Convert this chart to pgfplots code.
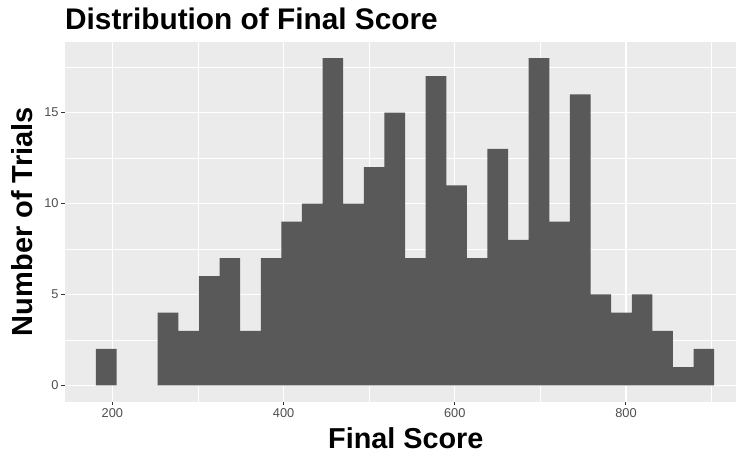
\documentclass[border=0pt]{standalone}
\usepackage{pgfplots}
\pgfplotsset{compat=1.18}
\usepackage{fontspec}
\setmainfont{Liberation Sans}
\definecolor{ggbg}{HTML}{EBEBEB}
\definecolor{ggbar}{HTML}{595959}
\definecolor{ggtxt}{HTML}{4D4D4D}
\definecolor{ggtick}{HTML}{333333}
\begin{document}
\begin{tikzpicture}
\path[use as bounding box] (0,0) rectangle (736bp,454bp);
\begin{axis}[
  at={(65bp,52.3bp)}, anchor=south west,
  width=671bp, height=360bp, scale only axis,
  xmin=144.6, xmax=928.6, ymin=-0.9, ymax=18.9,
  axis background/.style={fill=ggbg},
  axis line style={draw=none},
  xtick={200,400,600,800}, ytick={0,5,10,15},
  minor xtick={300,500,700,900}, minor ytick={2.5,7.5,12.5,17.5},
  grid=both,
  major grid style={white, line width=1.42bp},
  minor grid style={white, line width=0.71bp},
  tick pos=left, tick align=outside,
  major tick length=3.7bp, minor tick length=0pt,
  major tick style={ggtick, line width=1.07bp},
  /pgf/number format/assume math mode=true,
  ticklabel style={font=\fontsize{12.8bp}{14bp}\selectfont, text=ggtxt},
  xticklabel style={inner sep=0pt, anchor=north, yshift=-3bp},
  yticklabel style={inner sep=0pt, anchor=east, xshift=-2.5bp},
  title={Distribution of Final Score},
  every axis title/.style={at={([yshift=12.4bp]axis description cs:0,1)}, anchor=base west, inner sep=0pt,
    font=\fontsize{29.8bp}{34bp}\selectfont\bfseries},
  xlabel={Final Score},
  every axis x label/.style={at={([xshift=5.3bp,yshift=-46.3bp]axis description cs:0.5,0)}, anchor=base, inner sep=0pt,
    font=\fontsize{28.8bp}{34bp}\selectfont\bfseries},
  ylabel={Number of Trials},
  every axis y label/.style={at={([xshift=-32bp]axis description cs:0,0.5)}, rotate=90, anchor=base, inner sep=0pt,
    font=\fontsize{29bp}{34bp}\selectfont\bfseries},
]
\addplot[ybar interval, fill=ggbar, draw=none] coordinates {
(180.70,2) (204.78,0) (228.86,0) (252.94,4) (277.02,3) (301.10,6)
(325.18,7) (349.26,3) (373.34,7) (397.42,9) (421.50,10) (445.58,18)
(469.66,10) (493.74,12) (517.82,15) (541.90,7) (565.98,17) (590.06,11)
(614.14,7) (638.22,13) (662.30,8) (686.38,18) (710.46,9) (734.54,16)
(758.62,5) (782.70,4) (806.78,5) (830.86,3) (854.94,1) (879.02,2)
(903.10,2)
};
\end{axis}
\end{tikzpicture}
\end{document}
